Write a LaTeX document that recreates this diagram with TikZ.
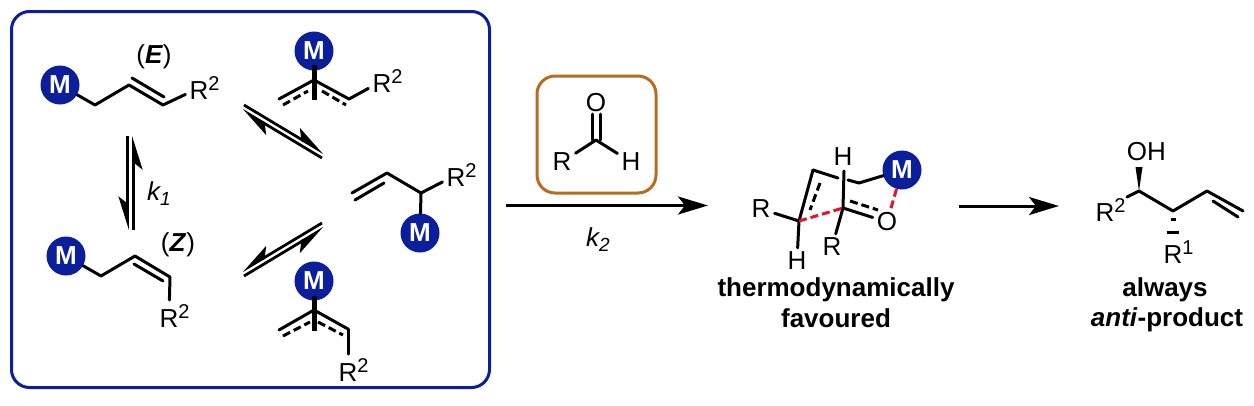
\documentclass[tikz,border=0pt]{standalone}
\usepackage{fontspec}
\setmainfont{Liberation Sans}
\usepackage{xcolor}
\usepackage{tikz}
\usetikzlibrary{arrows.meta}
\usetikzlibrary{calc}
\definecolor{metalblue}{HTML}{0B1F9B}
\definecolor{boxorange}{HTML}{B96C1E}
\definecolor{tsred}{HTML}{E5132B}
\newcommand{\Rsup}[1]{R\rlap{\raisebox{9.5pt}{\fontsize{20}{20}\selectfont #1}}}
\newcommand{\ksub}[1]{\textit{k\raisebox{-5pt}{\fontsize{19}{19}\selectfont #1}}}

\begin{document}
\begin{tikzpicture}[x=1pt,y=-1pt,line cap=round,>=Stealth,font=\fontsize{26}{29}\selectfont]
	\tikzstyle{atom}=[inner sep=4pt]
	\tikzstyle{word}=[inner sep=0pt,font=\fontsize{26}{29}\selectfont\bfseries]
	\tikzstyle{metal}=[circle,fill=metalblue,text=white,inner sep=0pt,minimum size=39pt,font=\fontsize{26}{29}\selectfont\bfseries]
	\tikzstyle{bond}=[line width=3pt]
	\tikzstyle{fatbond}=[line width=5pt,line cap=butt]
	\tikzstyle{dbond}=[line width=3pt,line cap=butt,dash pattern=on 8pt off 4pt]
	\tikzstyle{reddash}=[dbond,tsred]
	\tikzstyle{hup}=[line width=2.8pt,line cap=butt,-{Stealth[harpoon,length=29pt,width=18pt,inset=7pt]}]
	\tikzstyle{hdown}=[line width=2.8pt,line cap=butt,-{Stealth[harpoon,swap,length=29pt,width=18pt,inset=7pt]}]
	\tikzstyle{react}=[line width=3pt,line cap=butt,-{Stealth[length=30pt,width=18pt,inset=7pt]}]
	\tikzstyle{hashbond}=[line width=3pt,line cap=butt]
	\useasboundingbox (0,0) rectangle (1254,405);

	% frames
	\node[draw=metalblue,line width=3pt,rounded corners=18pt,minimum width=478pt,minimum height=376pt,inner sep=0pt] (frame) at (250.5,199.5) {};
	\node[draw=boxorange,line width=3pt,rounded corners=18pt,minimum width=119pt,minimum height=117pt,inner sep=0pt] (aldbox) at (596.5,134.5) {};

	% E alkene
	\node[metal] (Me) at (60,85) {M};
	\coordinate (e1) at (95,105);
	\coordinate (e2) at (129,85);
	\coordinate (e3) at (163,105);
	\coordinate (e4) at (132,78);
	\coordinate (e5) at (164,97);
	\node[atom] (Re) at (199,88) {\Rsup{2}};
	\node[inner sep=0pt] (labE) at (154,57) {(\textbf{\textit{E}})};
	\path (Me) edge[bond] (e1) (e1) edge[bond] (e2) (e2) edge[bond] (e3) (e4) edge[bond] (e5) (e3) edge[bond] (Re);

	% top allyl
	\node[metal] (Mt) at (314,51) {M};
	\coordinate (t0) at (314,80);
	\coordinate (t1) at (279,99);
	\coordinate (t2) at (349,99);
	\coordinate (t3) at (314,65);
	\coordinate (t4) at (314,100);
	\coordinate (t5) at (283,105);
	\coordinate (t6) at (308,91);
	\coordinate (t7) at (322,91);
	\coordinate (t8) at (346,105);
	\node[atom] (Rt) at (382,81) {\Rsup{2}};
	\path (t1) edge[bond] (t0) (t0) edge[bond] (t2) (t2) edge[bond] (Rt) (t3) edge[fatbond] (t4)
		(t5) edge[dbond] (t6) (t7) edge[dbond] (t8);

	% branched allyl
	\coordinate (b1) at (352,193);
	\coordinate (b2) at (387,173);
	\coordinate (b3) at (421,193);
	\coordinate (b4) at (355,200);
	\coordinate (b5) at (384,183);
	\node[atom] (Rb) at (456,175) {\Rsup{2}};
	\node[metal] (Mb) at (420,233) {M};
	\path (b1) edge[bond] (b2) (b2) edge[bond] (b3) (b4) edge[bond] (b5) (b3) edge[bond] (Rb) (b3) edge[bond] (Mb);

	% Z alkene
	\node[metal] (Mz) at (66,256) {M};
	\coordinate (z1) at (101,276);
	\coordinate (z2) at (135,256);
	\coordinate (z3) at (170,277);
	\coordinate (z4) at (134,264);
	\coordinate (z5) at (163,281);
	\node[atom] (Rz) at (169,316) {\Rsup{2}};
	\node[inner sep=0pt] (labZ) at (178,245) {(\textbf{\textit{Z}})};
	\path (Mz) edge[bond] (z1) (z1) edge[bond] (z2) (z2) edge[bond] (z3) (z4) edge[bond] (z5) (z3) edge[bond] (Rz);

	% bottom allyl
	\node[metal] (Ml) at (314,281) {M};
	\coordinate (l0) at (314,310);
	\coordinate (l1) at (279,330);
	\coordinate (l2) at (348,329);
	\coordinate (l3) at (314,296);
	\coordinate (l4) at (314,331);
	\coordinate (l5) at (283,336);
	\coordinate (l6) at (310,322);
	\coordinate (l7) at (318,322);
	\coordinate (l8) at (343,335);
	\node[atom] (Rl) at (348,370) {\Rsup{2}};
	\path (l1) edge[bond] (l0) (l0) edge[bond] (l2) (l2) edge[bond] (Rl) (l3) edge[fatbond] (l4)
		(l5) edge[dbond] (l6) (l7) edge[dbond] (l8);

	% equilibria
	\coordinate (q1) at (127.5,136);
	\coordinate (q2) at (127.5,230);
	\coordinate (q3) at (133.5,230);
	\coordinate (q4) at (133.5,136);
	\coordinate (q5) at (244,105);
	\coordinate (q6) at (324,153);
	\coordinate (q7) at (322,158);
	\coordinate (q8) at (242,110);
	\coordinate (q9) at (322,223);
	\coordinate (q10) at (242,271);
	\coordinate (q11) at (244,276);
	\coordinate (q12) at (324,228);
	\path (q1) edge[hdown] (q2) (q3) edge[hdown] (q4) (q5) edge[hup] (q6) (q7) edge[hup] (q8)
		(q9) edge[hdown] (q10) (q11) edge[hdown] (q12);
	\node[inner sep=0pt] (kone) at (159,194) {\ksub{1}};

	% aldehyde
	\node[atom] (Oa) at (596,103) {O};
	\coordinate (a0) at (596,140);
	\coordinate (a1) at (592,114);
	\coordinate (a2) at (592,140);
	\coordinate (a3) at (600,114);
	\coordinate (a4) at (600,140);
	\node[atom] (Ra) at (562,162) {R};
	\node[atom] (Ha) at (631,162) {H};
	\path (a1) edge[bond] (a2) (a3) edge[bond] (a4) (a0) edge[bond] (Ra) (a0) edge[bond] (Ha);

	% reaction arrows
	\coordinate (r1) at (506,205.5);
	\coordinate (r2) at (708,205.5);
	\coordinate (r3) at (959,206);
	\coordinate (r4) at (1059,206);
	\path (r1) edge[react] (r2) (r3) edge[react] (r4);
	\node[inner sep=0pt] (ktwo) at (598,240) {\ksub{2}};

	% transition state
	\node[metal] (Ms) at (902,170) {M};
	\coordinate (s1) at (799,221);
	\coordinate (s2) at (813,170);
	\coordinate (s3) at (838,178);
	\coordinate (s4) at (844,171);
	\coordinate (s5) at (843,208);
	\coordinate (s6) at (848,180);
	\coordinate (s7) at (859,183);
	\coordinate (s8) at (820,183);
	\coordinate (s9) at (810,210);
	\coordinate (s10) at (850,201);
	\coordinate (s11) at (878,210);
	\node[atom] (Rs) at (761,209) {R};
	\node[atom] (Hs) at (797,261) {H};
	\node[atom] (Ht) at (843,157) {H};
	\node[atom] (Os) at (887,222) {O};
	\node[atom] (Rr) at (832,247) {R};
	\path (Rs) edge[bond] (s1) (s1) edge[bond] (Hs) (s1) edge[bond] (s2) (s2) edge[bond] (s3) (s4) edge[bond] (s5)
		(s6) edge[bond] (s7) (s7) edge[bond] (Ms) (s5) edge[bond] (Os) (s5) edge[bond] (Rr)
		(s8) edge[dbond] (s9) (s10) edge[dbond] (s11)
		(s1) edge[reddash] (s5) (Ms) edge[reddash] (Os);
	\node[word] (thermo) at (836,290) {thermodynamically};
	\node[word] (fav) at (836,318) {favoured};

	% product
	\coordinate (p0) at (1127,197);
	\coordinate (p1) at (1139,191);
	\coordinate (p2) at (1173,211);
	\coordinate (p3) at (1207,191);
	\coordinate (p4) at (1243,211);
	\coordinate (p5) at (1213,201);
	\coordinate (p6) at (1238,217);
	\coordinate (w1) at (1135.5,167);
	\coordinate (w2) at (1142.5,167);
	\coordinate (d1) at (1170.5,219);
	\coordinate (d2) at (1175.5,219);
	\coordinate (d3) at (1167,232);
	\coordinate (d4) at (1179,232);
	\node[atom] (Op) at (1137,152) {O\rlap{H}};
	\node[atom] (Rp) at (1105,210) {\Rsup{2}};
	\node[atom] (Rq) at (1173,252) {\Rsup{1}};
	\fill (p1) -- (w1) -- (w2) -- cycle;
	\path (p0) edge[bond] (p1) (p1) edge[bond] (p2) (p2) edge[bond] (p3) (p3) edge[bond] (p4) (p5) edge[bond] (p6)
		(d1) edge[hashbond] (d2) (d3) edge[hashbond] (d4);
	\node[word] (always) at (1165,290) {always};
	\node[word] (anti) at (1167,320) {\textit{anti}-product};
\end{tikzpicture}
\end{document}
